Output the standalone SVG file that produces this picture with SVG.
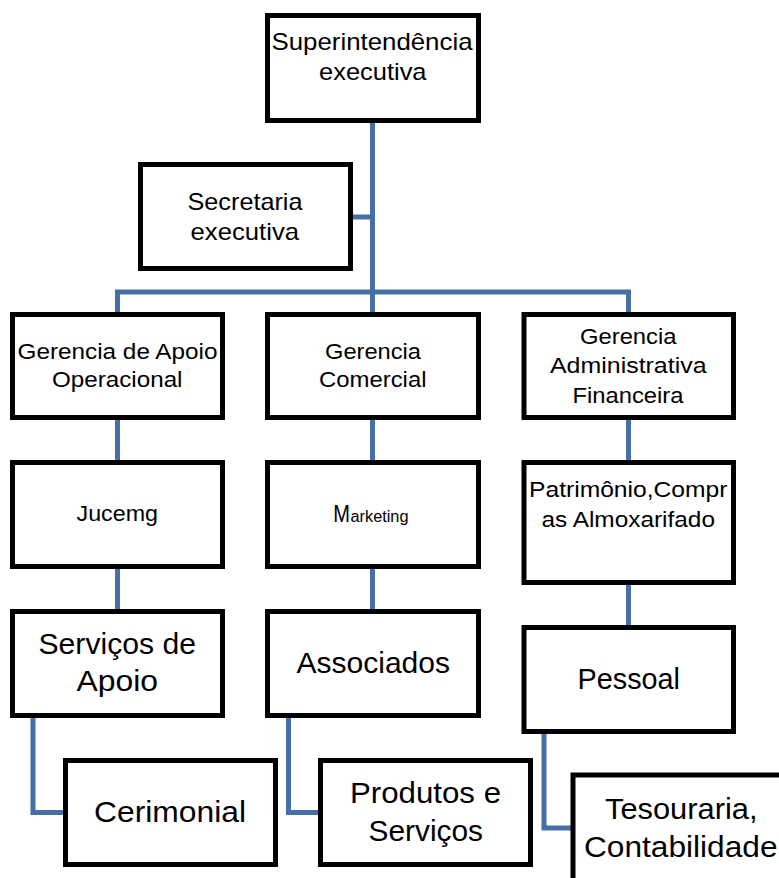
<svg xmlns="http://www.w3.org/2000/svg" width="779" height="878" viewBox="0 0 779 878">
<style>
.box{fill:#fff;stroke:#000;stroke-width:5;stroke-linejoin:miter}
.ln{fill:none;stroke:#466fa5;stroke-width:5;stroke-linejoin:miter}
text{font-family:"Liberation Sans",Arial,sans-serif;fill:#000}
.s{font-size:22px}
.m{font-size:24px}
.l{font-size:30px}
</style>
<rect width="779" height="878" fill="#fff"/>
<g id="connectors">
<path class="ln" d="M372.5,123 V312"/>
<path class="ln" d="M353,217 H372.5"/>
<path class="ln" d="M117.5,312 V292 H628.5 V312"/>
<path class="ln" d="M117.5,420 V460 M372.5,420 V460 M628.5,420 V460"/>
<path class="ln" d="M117.5,569 V609 M372.5,569 V609 M628.5,585 V625"/>
<path class="ln" d="M33,718 V812.5 H63"/>
<path class="ln" d="M288.5,718 V812.5 H318"/>
<path class="ln" d="M544,734 V828 H573"/>
</g>
<g id="superintendencia">
<rect class="box" x="267.5" y="15.5" width="211" height="105"/>
<text class="m" x="271.5" y="50" textLength="201" lengthAdjust="spacingAndGlyphs">Superintendência</text>
<text class="m" x="319" y="80" textLength="107.5" lengthAdjust="spacingAndGlyphs">executiva</text>
</g>
<g id="secretaria">
<rect class="box" x="140.5" y="164.5" width="210" height="104"/>
<text class="m" x="187.5" y="210" textLength="115" lengthAdjust="spacingAndGlyphs">Secretaria</text>
<text class="m" x="190.5" y="240" textLength="108.5" lengthAdjust="spacingAndGlyphs">executiva</text>
</g>
<g id="gerencia-apoio">
<rect class="box" x="12.5" y="314.5" width="210" height="103"/>
<text class="s" x="17.5" y="359.3" textLength="200" lengthAdjust="spacingAndGlyphs">Gerencia de Apoio</text>
<text class="s" x="52" y="387.3" textLength="130.5" lengthAdjust="spacingAndGlyphs">Operacional</text>
</g>
<g id="gerencia-comercial">
<rect class="box" x="267.5" y="314.5" width="211" height="103"/>
<text class="s" x="325" y="359.3" textLength="96" lengthAdjust="spacingAndGlyphs">Gerencia</text>
<text class="s" x="319" y="387.3" textLength="107.5" lengthAdjust="spacingAndGlyphs">Comercial</text>
</g>
<g id="gerencia-adm">
<rect class="box" x="524" y="314.5" width="209.5" height="103"/>
<text class="s" x="580" y="344" textLength="96.5" lengthAdjust="spacingAndGlyphs">Gerencia</text>
<text class="s" x="550" y="373.3" textLength="156.5" lengthAdjust="spacingAndGlyphs">Administrativa</text>
<text class="s" x="572.5" y="402.7" textLength="111" lengthAdjust="spacingAndGlyphs">Financeira</text>
</g>
<g id="jucemg">
<rect class="box" x="12.5" y="462.5" width="210" height="104"/>
<text class="s" x="76.5" y="520.5" textLength="81.5" lengthAdjust="spacingAndGlyphs">Jucemg</text>
</g>
<g id="marketing">
<rect class="box" x="267.5" y="462.5" width="211" height="104"/>
<text y="521.7"><tspan x="333.3" font-size="23" textLength="16.7" lengthAdjust="spacingAndGlyphs">M</tspan><tspan x="350.5" font-size="16" textLength="58" lengthAdjust="spacingAndGlyphs">arketing</tspan></text>
</g>
<g id="patrimonio">
<rect class="box" x="524" y="462.5" width="209.5" height="120"/>
<text class="s" x="529" y="496.7" textLength="198.5" lengthAdjust="spacingAndGlyphs">Patrimônio,Compr</text>
<text class="s" x="541.5" y="526.7" textLength="173.5" lengthAdjust="spacingAndGlyphs">as Almoxarifado</text>
</g>
<g id="servicos-apoio">
<rect class="box" x="12.5" y="611.5" width="210" height="104"/>
<text class="l" x="38.5" y="654" textLength="157.5" lengthAdjust="spacingAndGlyphs">Serviços de</text>
<text class="l" x="76.5" y="691" textLength="81.5" lengthAdjust="spacingAndGlyphs">Apoio</text>
</g>
<g id="associados">
<rect class="box" x="267.5" y="611.5" width="211" height="104"/>
<text class="l" x="296.5" y="673.3" textLength="153.5" lengthAdjust="spacingAndGlyphs">Associados</text>
</g>
<g id="pessoal">
<rect class="box" x="524" y="627.5" width="209.5" height="104"/>
<text class="l" x="577.5" y="688.7" textLength="102.5" lengthAdjust="spacingAndGlyphs">Pessoal</text>
</g>
<g id="cerimonial">
<rect class="box" x="65.5" y="760.5" width="210" height="104"/>
<text class="l" x="94" y="822.3" textLength="152" lengthAdjust="spacingAndGlyphs">Cerimonial</text>
</g>
<g id="produtos">
<rect class="box" x="320.5" y="760.5" width="210" height="104"/>
<text class="l" x="350" y="803.3" textLength="151" lengthAdjust="spacingAndGlyphs">Produtos e</text>
<text class="l" x="368.5" y="840.7" textLength="114.5" lengthAdjust="spacingAndGlyphs">Serviços</text>
</g>
<g id="tesouraria">
<rect class="box" x="573" y="775" width="220" height="110"/>
<text class="l" x="605" y="818.7" textLength="152.5" lengthAdjust="spacingAndGlyphs">Tesouraria,</text>
<text class="l" x="584" y="856.7" textLength="193.5" lengthAdjust="spacingAndGlyphs">Contabilidade</text>
</g>
</svg>
